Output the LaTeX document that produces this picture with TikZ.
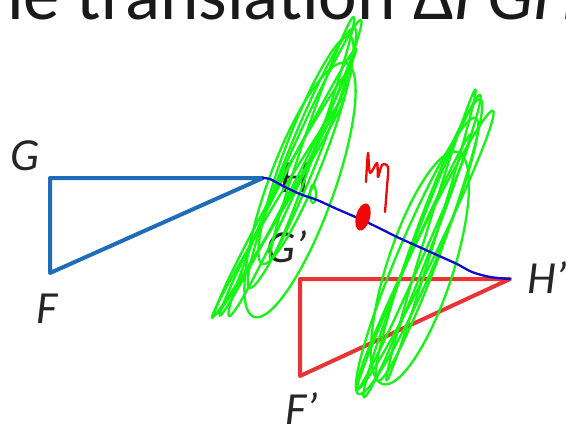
\documentclass[tikz,border=0pt]{standalone}
\usepackage{fontspec}
\setmainfont{Carlito}
\definecolor{triblue}{RGB}{31,108,184}
\definecolor{trired}{RGB}{232,52,52}
\definecolor{penblue}{RGB}{12,12,205}
\definecolor{penred}{RGB}{240,8,8}
\definecolor{pengreen}{RGB}{20,245,20}
\tikzset{
  tri/.style={line width=4pt,line join=round},
  lbl/.style={font=\fontsize{46}{46}\selectfont\itshape,inner sep=0pt,anchor=base west,text=black!85},
  pen/.style={line width=2.3pt,line cap=round,line join=round},
}

\begin{document}
\begin{tikzpicture}[x=1pt,y=-1pt]
  \useasboundingbox (0,0) rectangle (566,424);
  \clip (0,0) rectangle (566,424);
  \node[font=\fontsize{73}{73}\selectfont,inner sep=0pt,anchor=base west,text=black!90] (title) at (7,19) {le translation\hspace{18pt}Δ\textit{FGH}};
  % triangles
  \coordinate (G) at (50,178); \coordinate (H) at (263,178); \coordinate (F) at (50,273);
  \coordinate (Gp) at (300,279); \coordinate (Hp) at (510,279); \coordinate (Fp) at (300,376);
  \draw[tri,triblue] (G) -- (H) -- (F) -- cycle;
  \draw[tri,trired] (Gp) -- (Hp) -- (Fp) -- cycle;
  \node[lbl] (lblG) at (10,170) {G};
  \node[lbl] (lblF) at (36,323) {F};
  \node[lbl] (lblH) at (280,192) {H};
  \node[lbl] (lblGp) at (266,262) {G’};
  \node[lbl] (lblHp) at (527,293) {H’};
  \node[lbl] (lblFp) at (285,424) {F’};
  % green scribbles
  \foreach \cx/\cy/\a/\b/\t in {300/190/135/33/70, 295/168/162/10/66, 288/182/150/6/63,
      302/158/140/15/68, 283/192/140/8/61, 306/150/122/20/69, 278/208/128/5/59, 312/138/128/7/71,
      420/268/122/33/72, 422/246/162/9/69, 429/240/150/15/70, 414/262/140/6/66,
      431/235/152/5/73, 417/256/150/19/67, 425/250/155/11/64}
    \draw[pen,pengreen,rotate around={\t:(\cx,\cy)}] (\cx,\cy) ellipse[x radius=\a pt,y radius=\b pt];
  \draw[pen,pengreen] (313,194) ellipse[x radius=3pt,y radius=9pt];
  % blue path H -> H'
  \draw[pen,penblue] plot[smooth] coordinates {(H) (270,179) (283,186) (300,194) (317,200)
    (337,209) (360,219) (377,227) (397,237) (417,246) (437,255) (457,264) (472,272) (490,277) (Hp)};
  % red scribble
  \fill[penred,rotate around={-15:(363,217)}] (363,217) ellipse[x radius=7pt,y radius=14pt];
  \draw[pen,penred] plot[smooth] coordinates {(366,182) (368,153) (370,173) (377,163) (378,177)
    (382,165) (388,167) (387,187) (385,212)};
\end{tikzpicture}
\end{document}
